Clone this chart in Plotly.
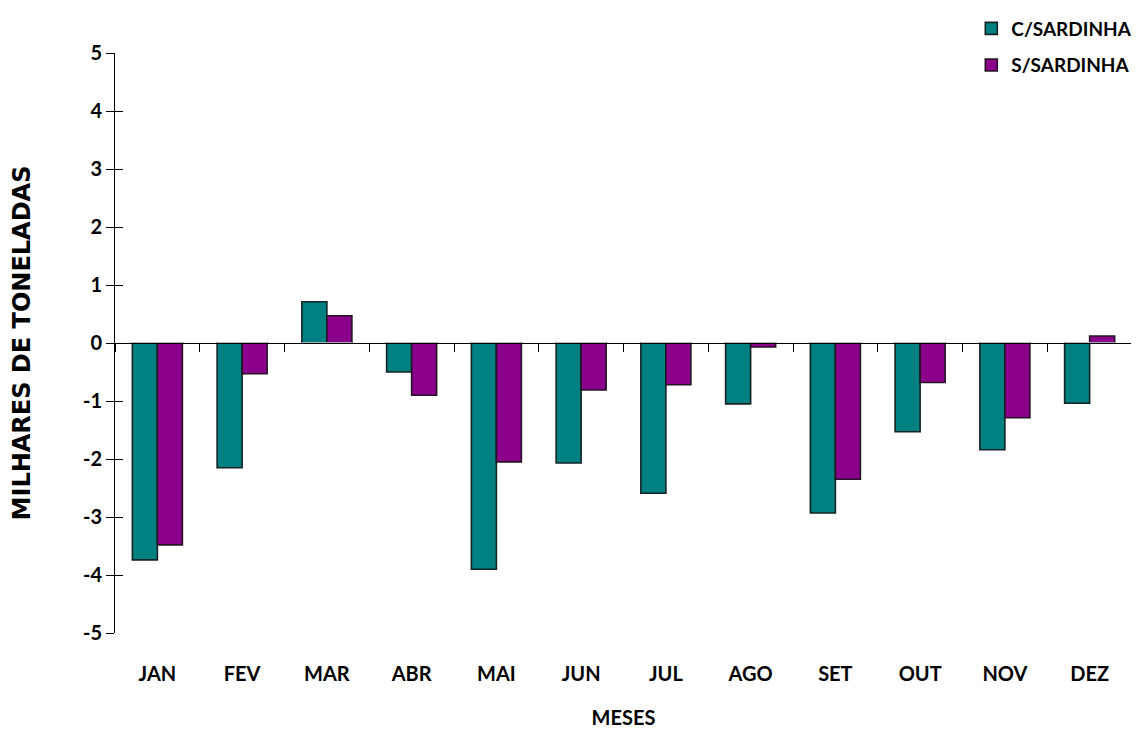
import plotly.graph_objects as go

months = ["JAN", "FEV", "MAR", "ABR", "MAI", "JUN", "JUL", "AGO", "SET", "OUT", "NOV", "DEZ"]
c_sardinha = [-3.74, -2.15, 0.71, -0.50, -3.90, -2.07, -2.59, -1.05, -2.93, -1.53, -1.84, -1.04]
s_sardinha = [-3.48, -0.53, 0.47, -0.90, -2.05, -0.81, -0.72, -0.07, -2.35, -0.68, -1.29, 0.12]
y_ticks = [-5, -4, -3, -2, -1, 0, 1, 2, 3, 4, 5]
y_ticktext = [str(v) for v in y_ticks]

FONT = "Lato"
TF = dict(family=FONT, size=20, color="black", weight="bold")

fig = go.Figure()
fig.add_trace(go.Bar(x=months, y=c_sardinha, name="C/SARDINHA", legendgroup="c",
                     marker=dict(color="#008080", line=dict(color="#142424", width=1.6))))
fig.add_trace(go.Bar(x=months, y=s_sardinha, name="S/SARDINHA", legendgroup="s",
                     marker=dict(color="#8a008a", line=dict(color="#241424", width=1.6))))
# invisible helper traces carrying the zero-line axis and the inner y ticks
fig.add_trace(go.Bar(x=months, y=[0]*len(months), xaxis="x2", yaxis="y", showlegend=False,
                     hoverinfo="skip", marker=dict(color="rgba(0,0,0,0)")))
fig.add_trace(go.Bar(x=months, y=[0]*len(months), xaxis="x", yaxis="y2", showlegend=False,
                     hoverinfo="skip", marker=dict(color="rgba(0,0,0,0)")))

fig.update_layout(
    width=1131, height=721,
    paper_bgcolor="white", plot_bgcolor="white",
    margin=dict(l=107, r=7, t=45, b=96, autoexpand=False),
    barmode="group", bargap=0.41, bargroupgap=0,
    font=dict(family=FONT, size=20, color="black"),
    xaxis=dict(showline=False, ticks="", showgrid=False, zeroline=False, automargin=False,
               tickfont=TF, ticklabelstandoff=27, range=[-0.5, 11.5],
               title=dict(text="<b>MESES</b>", font=dict(family=FONT, size=20), standoff=27)),
    xaxis2=dict(overlaying="x", anchor="free", position=0.5, side="bottom",
                showline=True, linecolor="black", linewidth=1.3,
                ticks="outside", ticklen=8, tickcolor="black", tickwidth=1.3, tickson="boundaries",
                showticklabels=False, showgrid=False, zeroline=False, range=[-0.5, 11.5]),
    yaxis=dict(range=[-5, 5], tickvals=y_ticks, ticktext=y_ticktext, showline=True,
               linecolor="black", linewidth=1, automargin=False,
               ticks="outside", ticklen=8, tickcolor="black", showgrid=False, zeroline=False,
               tickfont=TF, ticklabelstandoff=0,
               title=dict(text="<b>MILHARES DE TONELADAS</b>",
                          font=dict(family="DejaVu Sans", size=24), standoff=49)),
    yaxis2=dict(overlaying="y", anchor="x", side="left", range=[-5, 5], tickvals=y_ticks,
                ticks="inside", ticklen=8, tickcolor="black", showticklabels=False,
                showline=False, showgrid=False, zeroline=False),
    legend=dict(x=0.842, y=1.075, xanchor="left", yanchor="top",
                font=dict(family=FONT, size=19, color="black", weight="bold"),
                traceorder="grouped", tracegroupgap=9,
                itemwidth=30, bgcolor="rgba(0,0,0,0)"),
)

fig.write_html("out.html")
